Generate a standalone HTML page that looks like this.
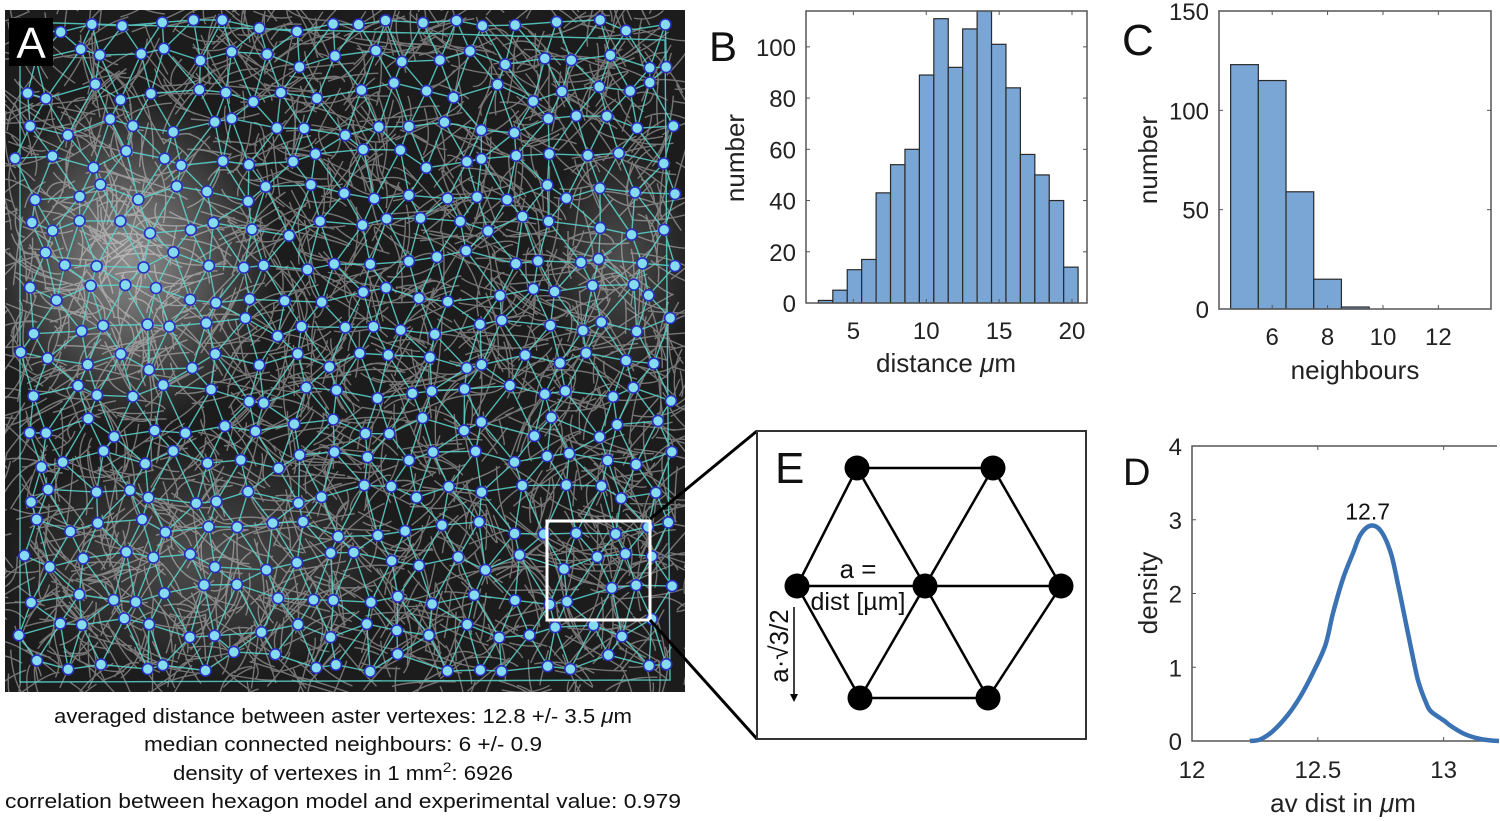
<!DOCTYPE html>
<html><head><meta charset="utf-8">
<style>
html,body{margin:0;padding:0;background:#fff;}
svg{display:block;font-family:"Liberation Sans",sans-serif;}
</style></head>
<body>
<svg id="fig" width="1500" height="821" viewBox="0 0 1500 821">
  <defs>
    <radialGradient id="glow1"><stop offset="0" stop-color="#fff" stop-opacity="0.5"/><stop offset="1" stop-color="#fff" stop-opacity="0"/></radialGradient>
    <radialGradient id="glow2"><stop offset="0" stop-color="#fff" stop-opacity="0.22"/><stop offset="1" stop-color="#fff" stop-opacity="0"/></radialGradient>
    <clipPath id="clipA"><rect x="5" y="10" width="680" height="682"/></clipPath>
  </defs>
  <g id="panelA" clip-path="url(#clipA)">
    <rect x="5" y="10" width="680" height="682" fill="#1c1c1c"/>
    <g id="fibers"></g>
    <ellipse cx="130" cy="260" rx="150" ry="170" fill="url(#glow1)"/>
    <ellipse cx="200" cy="560" rx="200" ry="120" fill="url(#glow2)"/>
    <ellipse cx="620" cy="260" rx="80" ry="120" fill="url(#glow2)"/>
    <g id="net-lines"></g>
    <g id="net-nodes"></g>
  </g>
  <rect x="9" y="18" width="44" height="48" fill="#000"/>
  <text x="31" y="58" font-size="44" fill="#fff" text-anchor="middle">A</text>
  <rect x="547" y="521" width="103" height="99" fill="none" stroke="#fff" stroke-width="3"/>
  <line x1="650" y1="519" x2="757" y2="431" stroke="#000" stroke-width="3"/>
  <line x1="650" y1="620" x2="757" y2="739" stroke="#000" stroke-width="3"/>

  <g font-size="20" fill="#111" text-anchor="middle">
    <text x="343" y="723" textLength="578" lengthAdjust="spacingAndGlyphs">averaged distance between aster vertexes: 12.8 +/- 3.5 <tspan font-style="italic">μ</tspan>m</text>
    <text x="343" y="751" textLength="398" lengthAdjust="spacingAndGlyphs">median connected neighbours: 6 +/- 0.9</text>
    <text x="343" y="780" textLength="340" lengthAdjust="spacingAndGlyphs">density of vertexes in 1 mm<tspan dy="-8" font-size="14">2</tspan><tspan dy="8">: 6926</tspan></text>
    <text x="343" y="808" textLength="676" lengthAdjust="spacingAndGlyphs">correlation between hexagon model and experimental value: 0.979</text>
  </g>

  <g id="panelB"></g>
  <g id="panelC"></g>
  <g id="panelD"></g>

  <g id="panelE">
    <rect x="757" y="431" width="329" height="308" fill="#fff" stroke="#333" stroke-width="2"/>
    <text x="775" y="483" font-size="44" fill="#111">E</text>
    <g stroke="#000" stroke-width="2.5">
      <line x1="857" y1="468" x2="993" y2="468"/>
      <line x1="860" y1="698" x2="988" y2="698"/>
      <line x1="797" y1="586" x2="1061" y2="586"/>
      <line x1="857" y1="468" x2="797" y2="586"/>
      <line x1="857" y1="468" x2="925" y2="586"/>
      <line x1="993" y1="468" x2="925" y2="586"/>
      <line x1="993" y1="468" x2="1061" y2="586"/>
      <line x1="797" y1="586" x2="860" y2="698"/>
      <line x1="925" y1="586" x2="860" y2="698"/>
      <line x1="925" y1="586" x2="988" y2="698"/>
      <line x1="1061" y1="586" x2="988" y2="698"/>
    </g>
    <g fill="#000">
      <circle cx="857" cy="468" r="12.5"/><circle cx="993" cy="468" r="12.5"/>
      <circle cx="797" cy="586" r="12.5"/><circle cx="925" cy="586" r="12.5"/><circle cx="1061" cy="586" r="12.5"/>
      <circle cx="860" cy="698" r="12.5"/><circle cx="988" cy="698" r="12.5"/>
    </g>
    <text x="858" y="578" font-size="26" text-anchor="middle" fill="#111">a =</text>
    <text x="858" y="610" font-size="25" text-anchor="middle" fill="#111">dist [µm]</text>
    <text transform="translate(788,646) rotate(-90)" font-size="26" text-anchor="middle" fill="#111">a·√3/2</text>
    <line x1="794" y1="607" x2="794" y2="698" stroke="#000" stroke-width="1.5"/>
    <path d="M790,694 L794,702 L798,694 Z" fill="#000"/>
  </g>
</svg>
<script>
// ---- Panel B data ----
const distBinStart = 2.6;
const distBinWidth = 0.99;
const distCounts = [1,5,13,17,43,54,60,89,111,92,107,114,101,84,58,50,40,14];
const distXTicks = [5,10,15,20];
const distYTicks = [0,20,40,60,80,100];
// ---- Panel C data ----
const nbBinStart = 4.5;
const nbBinWidth = 1;
const nbCounts = [123,115,59,15,1,0,0,0];
const nbXTicks = [6,8,10,12];
const nbYTicks = [0,50,100,150];
// ---- Panel D data ----
const kdeX = [12.23,12.27,12.32,12.38,12.43,12.48,12.53,12.56,12.6,12.64,12.67,12.71,12.75,12.79,12.82,12.85,12.88,12.9,12.93,12.95,13.0,13.03,13.08,13.13,13.18,13.22];
const kdeY = [0,0.02,0.13,0.35,0.6,0.92,1.3,1.73,2.2,2.55,2.8,2.92,2.85,2.55,2.1,1.6,1.1,0.8,0.52,0.4,0.28,0.2,0.1,0.04,0.01,0];
const kdeXTicks = [12,12.5,13];
const kdeYTicks = [0,1,2,3,4];
const kdePeakLabel = "12.7";

const NS = "http://www.w3.org/2000/svg";
function mk(parent, tag, attrs, text){
  const e = document.createElementNS(NS, tag);
  for (const k in attrs) e.setAttribute(k, attrs[k]);
  if (text !== undefined) e.textContent = text;
  parent.appendChild(e);
  return e;
}
function scale(d0,d1,p0,p1){ return v => p0 + (v-d0)/(d1-d0)*(p1-p0); }

function axesFrame(g, L, T, R, B, xs, ys, xt, yt, name){
  const fr = mk(g,'rect',{x:L,y:T,width:R-L,height:B-T,fill:'none',stroke:'#555','stroke-width':1.5});
  
  
  xt.forEach(v=>{
    const x = xs(v);
    mk(g,'line',{x1:x,y1:B,x2:x,y2:B-4,stroke:'#555','stroke-width':1});
    mk(g,'line',{x1:x,y1:T,x2:x,y2:T+4,stroke:'#555','stroke-width':1});
    const t = mk(g,'text',{x:x,y:B+36,'font-size':24,'text-anchor':'middle',fill:'#222'}, String(v));
    
    
  });
  yt.forEach(v=>{
    const y = ys(v);
    mk(g,'line',{x1:L,y1:y,x2:L+4,y2:y,stroke:'#555','stroke-width':1});
    mk(g,'line',{x1:R,y1:y,x2:R-4,y2:y,stroke:'#555','stroke-width':1});
    const t = mk(g,'text',{x:L-10,y:y+9,'font-size':24,'text-anchor':'end',fill:'#222'}, String(v));
    
    
  });
}

function histogram(g, L,T,R,B, xlim, ylim, start, w, counts, xt, yt, name){
  const xs = scale(xlim[0],xlim[1],L,R), ys = scale(ylim[0],ylim[1],B,T);
  counts.forEach((c,i)=>{
    if (c<=0) return;
    const x0 = xs(start+i*w), x1 = xs(start+(i+1)*w);
    const r = mk(g,'rect',{x:x0,y:ys(c),width:x1-x0,height:B-ys(c),fill:'#7aa6d6',stroke:'#2a2a2a','stroke-width':1.2});
    
    
  });
  axesFrame(g,L,T,R,B,xs,ys,xt,yt,name);
}

// Panel B
const gB = document.getElementById('panelB');
histogram(gB, 806,11,1087,303, [1.75,21.03],[0,114], distBinStart, distBinWidth, distCounts, distXTicks, distYTicks, 'dist-hist');
let t;
t = mk(gB,'text',{x:709,y:61,'font-size':42,fill:'#111'},'B');
 
t = mk(gB,'text',{transform:'translate(744,158) rotate(-90)','font-size':26,'text-anchor':'middle',fill:'#222'},'number');
 
t = mk(gB,'text',{x:946,y:372,'font-size':26,'text-anchor':'middle',fill:'#222'});
t.innerHTML = 'distance <tspan font-style="italic">μ</tspan>m';
 

// Panel C
const gC = document.getElementById('panelC');
histogram(gC, 1219,11,1491,309, [4.08,13.9],[0,150], nbBinStart, nbBinWidth, nbCounts, nbXTicks, nbYTicks, 'nb-hist');
t = mk(gC,'text',{x:1122,y:55,'font-size':44,fill:'#111'},'C');
 
t = mk(gC,'text',{transform:'translate(1157,160) rotate(-90)','font-size':26,'text-anchor':'middle',fill:'#222'},'number');
 
t = mk(gC,'text',{x:1355,y:379,'font-size':26,'text-anchor':'middle',fill:'#222'},'neighbours');
 

// Panel D
const gD = document.getElementById('panelD');
(function(){
  const L=1192,T=446,R=1497,B=741;
  const xs = scale(12,13.22,L,R+2), ys = scale(0,4,B,T);
  const fr = mk(gD,'path',{d:`M${R},${T} L${L},${T} L${L},${B} L${R},${B}`,fill:'none',stroke:'#555','stroke-width':1.5});
   
  kdeXTicks.forEach(v=>{
    const x=xs(v);
    mk(gD,'line',{x1:x,y1:B,x2:x,y2:B-4,stroke:'#555'});
    mk(gD,'line',{x1:x,y1:T,x2:x,y2:T+4,stroke:'#555'});
    const tt = mk(gD,'text',{x:x,y:B+37,'font-size':24,'text-anchor':'middle',fill:'#222'},String(v));
     
  });
  kdeYTicks.forEach(v=>{
    const y=ys(v);
    mk(gD,'line',{x1:L,y1:y,x2:L+4,y2:y,stroke:'#555'});
    const tt = mk(gD,'text',{x:L-10,y:y+9,'font-size':24,'text-anchor':'end',fill:'#222'},String(v));
     
  });
  const pts = kdeX.map((x,i)=>[xs(x),ys(kdeY[i])]);
  let d = `M${pts[0][0]},${pts[0][1]}`;
  for (let i=0;i<pts.length-1;i++){
    const p0=pts[Math.max(0,i-1)],p1=pts[i],p2=pts[i+1],p3=pts[Math.min(pts.length-1,i+2)];
    const c1=[p1[0]+(p2[0]-p0[0])/6,p1[1]+(p2[1]-p0[1])/6];
    const c2=[p2[0]-(p3[0]-p1[0])/6,p2[1]-(p3[1]-p1[1])/6];
    d+=` C${c1[0]},${c1[1]} ${c2[0]},${c2[1]} ${p2[0]},${p2[1]}`;
  }
  const ln = mk(gD,'path',{d:d,fill:'none',stroke:'#3a72b3','stroke-width':4.5,'stroke-linejoin':'round'});
   
  let pi=0; kdeY.forEach((v,i)=>{ if(v>kdeY[pi]) pi=i; });
  const pl = mk(gD,'text',{x:xs(kdeX[pi])-3,y:ys(kdeY[pi])-6,'font-size':23,'text-anchor':'middle',fill:'#111'},kdePeakLabel);
   
  let tt = mk(gD,'text',{x:1123,y:485,'font-size':38,fill:'#111'},'D');
   
  tt = mk(gD,'text',{transform:'translate(1157,593) rotate(-90)','font-size':26,'text-anchor':'middle',fill:'#222'},'density');
   
  tt = mk(gD,'text',{x:1343,y:812,'font-size':26,'text-anchor':'middle',fill:'#222'});
  tt.innerHTML = 'av dist in <tspan font-style="italic">μ</tspan>m';
   
})();

// Panel A decorative network (seeded pseudo-random texture)
(function(){
  let s = 12345;
  const rnd = ()=>{ s = (s*1103515245+12345) & 0x7fffffff; return s/0x7fffffff; };
  const fib = document.getElementById('fibers');
  let fd = '';
  for (let i=0;i<2200;i++){
    const x=5+rnd()*680, y=10+rnd()*682, a=rnd()*Math.PI*2, l=25+rnd()*45;
    const x2=x+Math.cos(a)*l, y2=y+Math.sin(a)*l;
    const cx=(x+x2)/2+(rnd()-0.5)*25, cy=(y+y2)/2+(rnd()-0.5)*25;
    fd += `M${x.toFixed(1)},${y.toFixed(1)} Q${cx.toFixed(1)},${cy.toFixed(1)} ${x2.toFixed(1)},${y2.toFixed(1)} `;
  }
  mk(fib,'path',{d:fd,fill:'none',stroke:'#e0e0e0','stroke-width':1.4,'stroke-opacity':0.45});
  const cols=20, rows=20, sx=33.5, sy=33.5;
  const grid=[];
  for(let r=0;r<rows;r++){ grid.push([]); for(let c=0;c<cols;c++){
    let x=22+c*sx+(r%2)*sx/2+(rnd()-0.5)*20, y=25+r*sy+(rnd()-0.5)*20;
    x=Math.min(675,Math.max(15,x)); y=Math.min(685,Math.max(20,y));
    grid[r].push([x,y]);
  }}
  const lg=document.getElementById('net-lines'); let ld='';
  for(let r=0;r<rows;r++)for(let c=0;c<cols;c++){
    const p=grid[r][c];
    const nb=[];
    if(c+1<cols) nb.push(grid[r][c+1]);
    if(r+1<rows){ nb.push(grid[r+1][c]); const cc = r%2? c+1 : c-1; if(cc>=0&&cc<cols) nb.push(grid[r+1][cc]); }
    nb.forEach(q=>{ ld+=`M${p[0].toFixed(1)},${p[1].toFixed(1)}L${q[0].toFixed(1)},${q[1].toFixed(1)}`; });
  }
  ld += 'M20,22 L665,40 L670,680 L20,682 Z';
  mk(lg,'path',{d:ld,fill:'none',stroke:'#5cd6cf','stroke-width':1.4,'stroke-opacity':0.85});
  const ng=document.getElementById('net-nodes');
  grid.flat().forEach(p=>{ mk(ng,'circle',{cx:p[0].toFixed(1),cy:p[1].toFixed(1),r:5.5,fill:'#86dcef',stroke:'#2b2fc0','stroke-width':1.6}); });
})();
</script>
</body></html>
